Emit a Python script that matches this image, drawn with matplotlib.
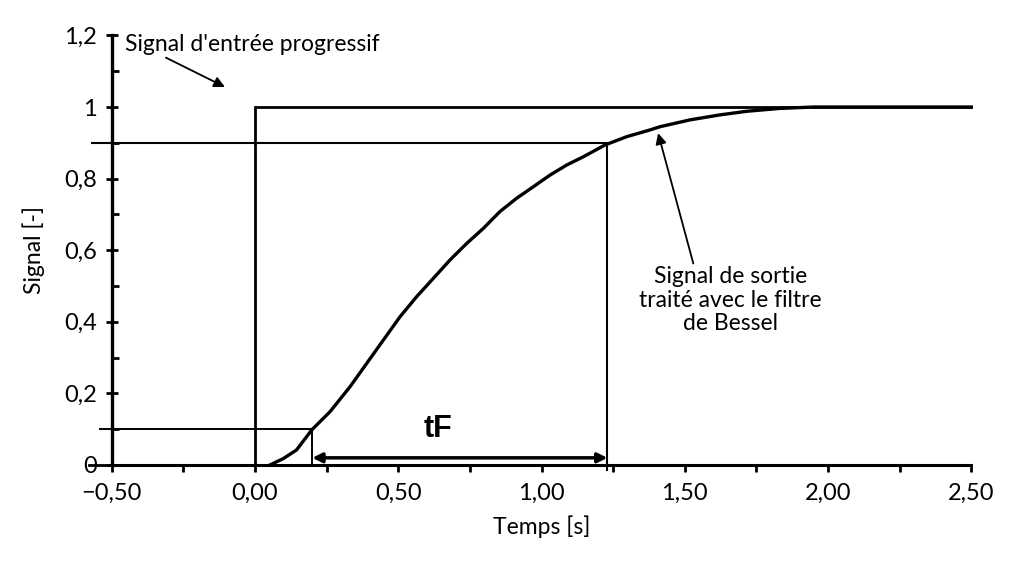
import numpy as np
import matplotlib
matplotlib.use("Agg")
import matplotlib.pyplot as plt
from matplotlib.ticker import FixedLocator

plt.rcParams['font.family'] = ['Lato', 'DejaVu Sans']

# input step signal
t_in = [-0.58, 0.0, 0.0, 2.5]
y_in = [0.0, 0.0, 1.0, 1.0]

# output of the Bessel filter
t_out = [0.052, 0.099, 0.145, 0.198, 0.262, 0.332, 0.39, 0.448, 0.506, 0.564,
         0.622, 0.681, 0.739, 0.797, 0.855, 0.913, 0.971, 1.03, 1.088, 1.146,
         1.222, 1.297, 1.379, 1.414, 1.518, 1.623, 1.716, 1.83, 1.95, 2.5]
y_out = [0.0, 0.018, 0.042, 0.098, 0.149, 0.219, 0.284, 0.349, 0.414, 0.47,
         0.521, 0.573, 0.619, 0.661, 0.708, 0.745, 0.777, 0.81, 0.838, 0.861,
         0.894, 0.917, 0.936, 0.945, 0.964, 0.978, 0.988, 0.996, 1.0, 1.0]

# 10% / 90% marks
t10, t90 = 0.2, 1.23
lvl10, lvl90 = 0.1, 0.9

x_major = [-0.5, 0.0, 0.5, 1.0, 1.5, 2.0, 2.5]
x_labels = ["\u22120,50", "0,00", "0,50", "1,00", "1,50", "2,00", "2,50"]
x_minor = [-0.25, 0.25, 0.75, 1.25, 1.75, 2.25]
y_major = [0.0, 0.2, 0.4, 0.6, 0.8, 1.0, 1.2]
y_labels = ["0", "0,2", "0,4", "0,6", "0,8", "1", "1,2"]
y_minor = [0.1, 0.3, 0.5, 0.7, 0.9, 1.1]

fig = plt.figure(figsize=(10.25, 5.63), dpi=100)
ax = fig.add_axes([0.0811, 0.1423, 0.8944, 0.8266])
ax.set_xlim(-0.6, 2.6)
ax.set_ylim(-0.05, 1.25)

# spines as crossing axes
for s in ["top", "right"]:
    ax.spines[s].set_visible(False)
ax.spines["left"].set_position(("data", -0.5))
ax.spines["bottom"].set_position(("data", 0.0))
ax.spines["left"].set_bounds(0, 1.2)
ax.spines["bottom"].set_bounds(-0.5, 2.5)
ax.spines["left"].set_linewidth(2.4)
ax.spines["bottom"].set_linewidth(2.2)

ax.xaxis.set_major_locator(FixedLocator(x_major))
ax.xaxis.set_minor_locator(FixedLocator(x_minor))
ax.set_xticklabels(x_labels)
ax.yaxis.set_major_locator(FixedLocator(y_major))
ax.yaxis.set_minor_locator(FixedLocator(y_minor))
ax.set_yticklabels(y_labels)

ax.tick_params(axis="x", which="both", direction="out", length=5, width=2,
               pad=8, labelsize=17)
ax.tick_params(axis="y", which="major", direction="inout", length=9, width=2,
               pad=6, labelsize=17)
ax.tick_params(axis="y", which="minor", direction="in", length=5, width=2)

# signals
ax.plot(t_in, y_in, color="black", lw=2.0, solid_joinstyle="miter")
ax.plot(t_out, y_out, color="black", lw=2.4, solid_joinstyle="round")

# helper lines
ax.plot([-0.54, t10, t10], [lvl10, lvl10, 0], color="black", lw=1.4)
ax.plot([-0.57, t90, t90], [lvl90, lvl90, -0.015], color="black", lw=1.5)

ax.annotate("", xy=(t90, 0.02), xytext=(t10, 0.02),
            arrowprops=dict(arrowstyle="<|-|>", lw=2.5, color="black",
                            mutation_scale=14, shrinkA=0, shrinkB=0))
ax.text(0.64, 0.1, "tF", fontsize=22, fontweight="bold",
        family=["Liberation Sans", "DejaVu Sans"], ha="center", va="center")

ax.annotate("Signal d'entr\u00e9e progressif", xy=(-0.105, 1.056),
            xytext=(-0.455, 1.175), fontsize=16.5, ha="left", va="center",
            arrowprops=dict(arrowstyle="-|>", lw=1.3, color="black",
                            mutation_scale=16, shrinkA=0, shrinkB=0,
                            relpos=(0.14, 0.0)))
ax.annotate("Signal de sortie\ntrait\u00e9 avec le filtre\nde Bessel",
            xy=(1.407, 0.927), xytext=(1.66, 0.46), fontsize=16.5,
            ha="center", va="center", linespacing=1.15,
            arrowprops=dict(arrowstyle="-|>", lw=1.3, color="black",
                            mutation_scale=16, shrinkA=0, shrinkB=0,
                            relpos=(0.3, 1.0)))

ax.set_xlabel("Temps [s]", fontsize=16.5, labelpad=8)
ax.set_ylabel("Signal [-]", fontsize=16.5, labelpad=14)

fig.savefig("out.png", dpi=100)
